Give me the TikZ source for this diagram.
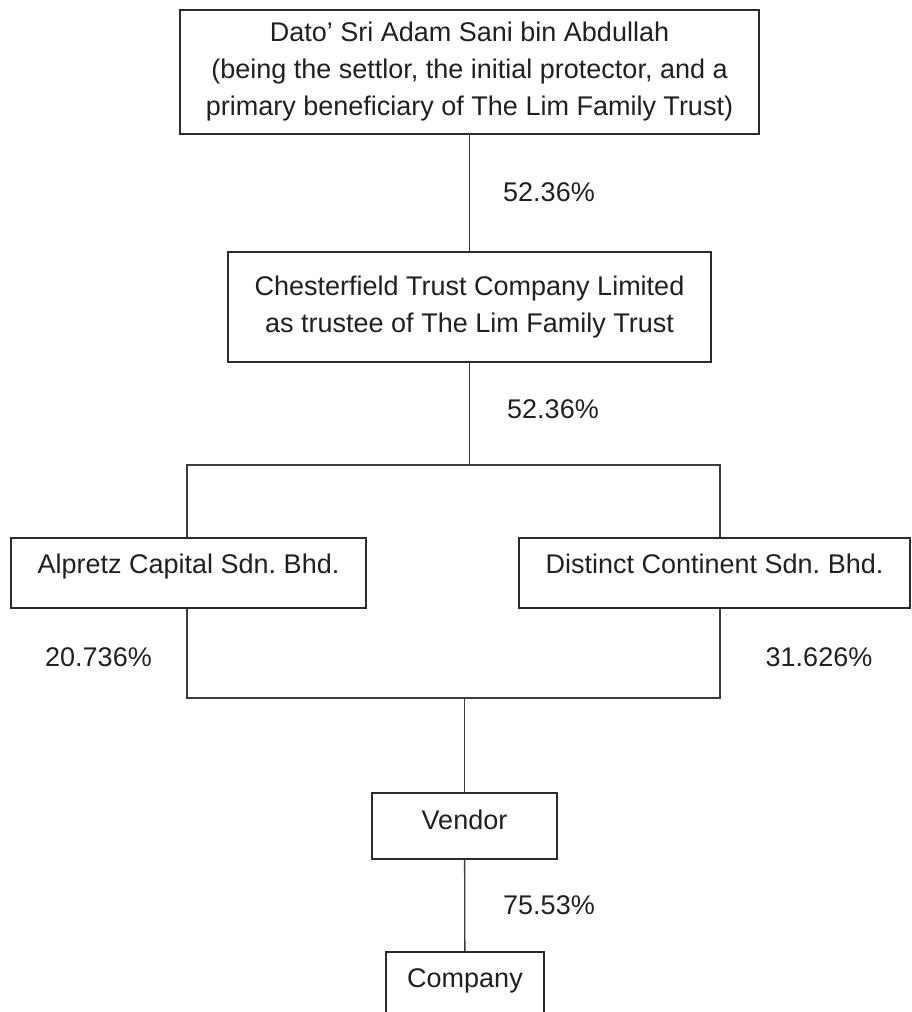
\documentclass[tikz,border=0pt]{standalone}
\usepackage{fontspec}
\setmainfont{Liberation Sans}
\usepackage{xcolor}
\usepackage{tikz}
\usetikzlibrary{positioning,calc}
\frenchspacing

\definecolor{boxline}{HTML}{2B2B2B}
\definecolor{linkline}{HTML}{3C3C3C}
\definecolor{inktext}{HTML}{231F20}

\begin{document}
\begin{tikzpicture}[x=1pt,y=-1pt,
  every node/.style={font=\fontsize{27}{37}\selectfont,text=inktext},
  entity/.style={draw=boxline,line width=2pt,align=center,inner sep=0pt},
  link/.style={draw=linkline,line width=1.3pt},
  share/.style={inner sep=0pt}]
  \useasboundingbox (0,0) rectangle (912,1012);
  \clip (0,0) rectangle (912,1012);

  \node[entity,minimum width=579,minimum height=124] (settlor) at (469.5,72)
    {Dato’ Sri Adam Sani bin Abdullah\\(being the settlor, the initial protector, and a\\primary beneficiary of The Lim Family Trust)};
  \node[entity,minimum width=483,minimum height=110] (trustee) at (469.5,307)
    {Chesterfield Trust Company Limited\\as trustee of The Lim Family Trust};
  \node[entity,minimum width=355,minimum height=70,text height=19pt,text depth=19pt] (alpretz) at (188.5,573)
    {Alpretz Capital Sdn. Bhd.};
  \node[entity,minimum width=391,minimum height=70,text height=19pt,text depth=19pt] (distinct) at (714.5,573)
    {Distinct Continent Sdn. Bhd.};
  \node[entity,minimum width=185,minimum height=66,text height=20pt,text depth=13pt] (vendor) at (464.5,826) {Vendor};
  \node[entity,minimum width=158,minimum height=78,text height=18pt,text depth=25pt] (company) at (465,991) {Company};

  \coordinate (split) at (469.5,465);
  \coordinate (splitL) at (187,465);
  \coordinate (splitR) at (720,465);
  \coordinate (join) at (464.5,698);
  \coordinate (joinL) at (187,698);
  \coordinate (joinR) at (720,698);

  \draw[link] (settlor) -- (trustee);
  \draw[link] (trustee) -- (split);
  \draw[link] (alpretz.north -| splitL) -- (splitL) -- (splitR) -- (distinct.north -| splitR);
  \draw[link] (alpretz.south -| joinL) -- (joinL) -- (joinR) -- (distinct.south -| joinR);
  \draw[link] (join) -- (vendor);
  \draw[link] (vendor) -- (company);

  \node[share] (pctTrust) at (549,192) {52.36\%};
  \node[share] (pctSplit) at (553,409) {52.36\%};
  \node[share] (pctAlpretz) at (98.5,657) {20.736\%};
  \node[share] (pctDistinct) at (819,657) {31.626\%};
  \node[share] (pctVendor) at (549,905) {75.53\%};
\end{tikzpicture}
\end{document}
